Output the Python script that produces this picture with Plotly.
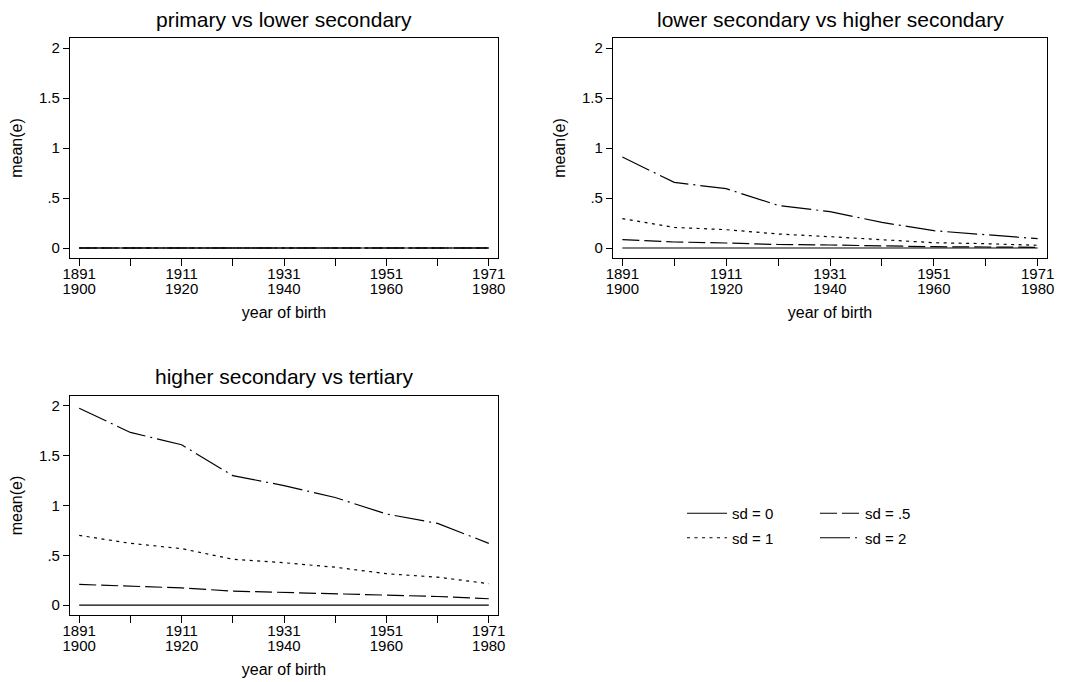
import plotly.graph_objects as go

# ---- data ----
cohort_x = [1891, 1901, 1911, 1921, 1931, 1941, 1951, 1961, 1971]
major_ticks = [1891, 1911, 1931, 1951, 1971]
label_line1 = ["1891", "1911", "1931", "1951", "1971"]
label_line2 = ["1900", "1920", "1940", "1960", "1980"]
y_ticks = [0, 0.5, 1, 1.5, 2]
y_labels = ["0", ".5", "1", "1.5", "2"]

series_names = ["sd = 0", "sd = .5", "sd = 1", "sd = 2"]
panel_titles = ["primary vs lower secondary",
                "lower secondary vs higher secondary",
                "higher secondary vs tertiary"]

# panel 1: primary vs lower secondary
p1_sd0 = [0, 0, 0, 0, 0, 0, 0, 0, 0]
p1_sd05 = [0, 0, 0, 0, 0, 0, 0, 0, 0]
p1_sd1 = [0, 0, 0, 0, 0, 0, 0, 0, 0]
p1_sd2 = [0, 0, 0, 0, 0, 0, 0, 0, 0]

# panel 2: lower secondary vs higher secondary
p2_sd0 = [0, 0, 0, 0, 0, 0, 0, 0, 0]
p2_sd05 = [0.083, 0.060, 0.050, 0.035, 0.030, 0.020, 0.013, 0.010, 0.007]
p2_sd1 = [0.293, 0.206, 0.183, 0.140, 0.113, 0.083, 0.053, 0.043, 0.027]
p2_sd2 = [0.910, 0.656, 0.593, 0.426, 0.363, 0.256, 0.173, 0.136, 0.093]

# panel 3: higher secondary vs tertiary
p3_sd0 = [0, 0, 0, 0, 0, 0, 0, 0, 0]
p3_sd05 = [0.207, 0.186, 0.172, 0.140, 0.126, 0.112, 0.096, 0.086, 0.063]
p3_sd1 = [0.700, 0.620, 0.567, 0.460, 0.425, 0.380, 0.315, 0.280, 0.215]
p3_sd2 = [1.977, 1.734, 1.610, 1.300, 1.200, 1.080, 0.915, 0.820, 0.620]

panels = [
    [p1_sd0, p1_sd05, p1_sd1, p1_sd2],
    [p2_sd0, p2_sd05, p2_sd1, p2_sd2],
    [p3_sd0, p3_sd05, p3_sd1, p3_sd2],
]

# ---- styles ----
W, H = 1074, 682
FONT = "Liberation Sans, Arial, sans-serif"
dashes = ["solid", "17px,5px", "3px,4.5px", "30px,5px,2px,5px"]
legend_for = ["legend", "legend2", "legend", "legend2"]

# pixel boxes of the plot areas (left, right, top, bottom)
boxes = [(70, 498, 38, 258), (613, 1047, 38, 258), (70, 498, 396, 615)]
title_y = [20, 20, 377]
XR = [1889.2, 1972.8]
YR = [-0.1, 2.1]

fig = go.Figure()

for pi, series in enumerate(panels):
    sfx = "" if pi == 0 else str(pi + 1)
    osfx = str(pi + 4)
    for si, vals in enumerate(series):
        # the sd = 0 line sits on the overlay x axis (same range) that carries
        # the second line of the cohort tick labels
        xa = "x" + osfx if si == 0 else "x" + sfx
        fig.add_trace(go.Scatter(
            x=cohort_x, y=vals, mode="lines",
            name=series_names[si],
            line=dict(color="black", width=1.2, dash=dashes[si]),
            xaxis=xa, yaxis="y" + sfx,
            showlegend=(pi == 0),
            legend=legend_for[si],
            legendgroup=series_names[si],
        ))

layout = dict(
    width=W, height=H,
    margin=dict(l=0, r=0, t=0, b=0),
    paper_bgcolor="white", plot_bgcolor="white",
    font=dict(family=FONT, size=15, color="black"),
    showlegend=True,
    annotations=[],
)

for pi, (l, r, t, b) in enumerate(boxes):
    sfx = "" if pi == 0 else str(pi + 1)
    osfx = str(pi + 4)
    xdom = [l / W, r / W]
    ydom = [1 - b / H, 1 - t / H]
    layout["xaxis" + sfx] = dict(
        domain=xdom, anchor="y" + sfx, range=XR,
        tickmode="array", tickvals=major_ticks, ticktext=label_line1,
        ticks="outside", ticklen=7, tickwidth=1, tickcolor="black",
        showline=True, linecolor="black", linewidth=1.2, mirror=True,
        showgrid=False, zeroline=False, automargin=False,
        tickfont=dict(size=15), ticklabelstandoff=-5,
        minor=dict(tick0=1901, dtick=20, ticks="outside", ticklen=7,
                   tickwidth=1, tickcolor="black", showgrid=False),
    )
    # second line of the tick labels (upper year of each cohort)
    layout["xaxis" + osfx] = dict(
        domain=xdom, anchor="y" + sfx, overlaying="x" + sfx, side="bottom",
        range=XR,
        tickmode="array", tickvals=major_ticks, ticktext=label_line2,
        ticks="outside", ticklen=7, tickcolor="rgba(0,0,0,0)",
        showline=False, showgrid=False, zeroline=False,
        automargin=False, tickfont=dict(size=15), ticklabelstandoff=10,
        title=dict(text="year of birth", font=dict(size=16), standoff=10),
    )
    layout["yaxis" + sfx] = dict(
        domain=ydom, anchor="x" + sfx, range=YR,
        tickmode="array", tickvals=y_ticks, ticktext=y_labels,
        ticks="outside", ticklen=6, tickwidth=1, tickcolor="black",
        showline=True, linecolor="black", linewidth=1.2, mirror=True,
        showgrid=False, zeroline=False, automargin=False,
        tickfont=dict(size=15),
        title=dict(text="mean(e)", font=dict(size=16), standoff=12),
    )
    layout["annotations"].append(dict(
        text=panel_titles[pi], xref="paper", yref="paper",
        x=(l + r) / 2 / W, y=1 - title_y[pi] / H,
        xanchor="center", yanchor="middle", showarrow=False,
        font=dict(size=21, family=FONT, color="black"),
    ))

layout["legend"] = dict(
    x=682 / W, y=1 - 497 / H, xanchor="left", yanchor="top",
    bgcolor="rgba(0,0,0,0)", font=dict(size=15), tracegroupgap=2,
    itemwidth=40,
)
layout["legend2"] = dict(
    x=815 / W, y=1 - 497 / H, xanchor="left", yanchor="top",
    bgcolor="rgba(0,0,0,0)", font=dict(size=15), tracegroupgap=2,
    itemwidth=40,
)

fig.update_layout(**layout)
fig.write_html("out.html", config={"displayModeBar": False},
               post_script="document.body.style.margin='0px';")
